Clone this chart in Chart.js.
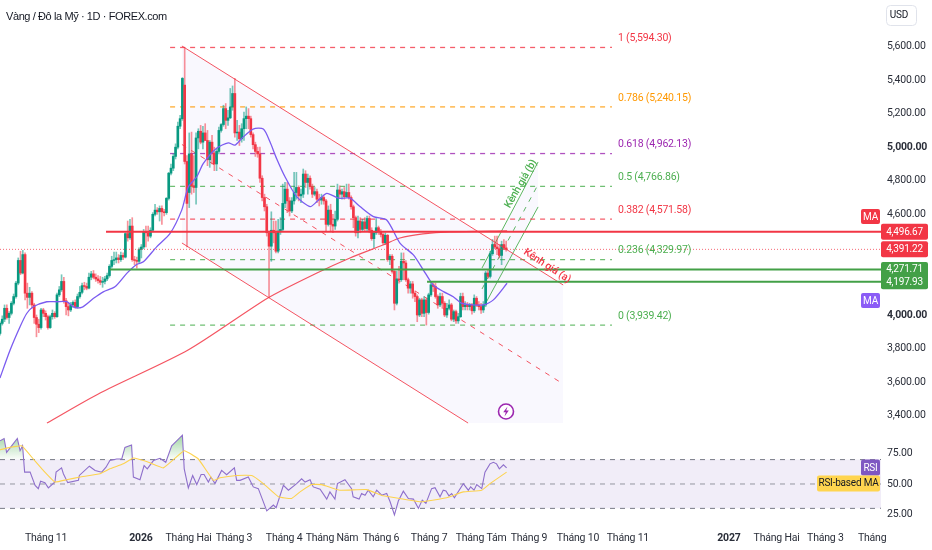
<!DOCTYPE html>
<html><head><meta charset="utf-8">
<style>html,body{margin:0;padding:0;background:#fff}canvas{display:block}</style>
<script src="https://cdn.jsdelivr.net/npm/chart.js@4"></script></head>
<body><canvas id="c" width="932" height="550"></canvas>
<script>
const chartTitle = "Vàng / Đô la Mỹ · 1D · FOREX.com";
const opens = [3890,3950,3975,4040,3985,4010,4070,4110,4190,4325,
4250,4360,4130,4105,4130,4060,3985,3945,3925,4030,
4010,3990,3925,3990,4010,3990,4120,4150,4200,4085,
4050,4030,4060,4075,4050,4110,4135,4175,4170,4160,
4225,4245,4225,4215,4205,4195,4200,4215,4235,4290,
4325,4330,4340,4330,4355,4345,4485,4460,4530,4330,
4325,4320,4390,4405,4495,4490,4470,4505,4600,4625,
4615,4635,4615,4610,4695,4845,4875,4945,5000,5125,
5170,5370,4915,4730,4960,4770,4760,5055,5095,5030,
5085,5040,4925,5030,4965,4900,4975,5100,5135,5230,
5160,5175,5240,5320,5085,5090,5050,5110,5170,5185,
5170,5075,5015,4975,4960,4815,4700,4645,4490,4410,
4505,4490,4380,4500,4510,4665,4750,4680,4620,4680,
4730,4760,4710,4720,4840,4790,4815,4765,4720,4735,
4690,4685,4700,4680,4540,4625,4540,4530,4570,4745,
4720,4735,4705,4730,4700,4645,4580,4490,4560,4510,
4555,4515,4575,4505,4455,4490,4520,4495,4480,4430,
4475,4330,4350,4260,4070,4215,4210,4320,4310,4210,
4160,4185,4130,4110,4000,4090,4010,4090,4015,4120,
4180,4170,4110,4060,4110,4070,4000,4040,4060,3975,
4020,3965,3990,4110,4050,4060,4050,4060,4025,4100,
4060,4050,4030,4060,4250,4230,4365,4420,4405,4395,4355,4420,4400];
const highs = [3960,3995,4060,4060,4020,4080,4125,4200,4340,4380,
4385,4370,4190,4165,4140,4070,4000,3975,4040,4040,
4025,4000,4000,4030,4020,4130,4170,4240,4225,4100,
4075,4075,4085,4090,4125,4170,4190,4195,4190,4250,
4260,4265,4245,4235,4230,4225,4230,4250,4300,4350,
4375,4375,4360,4375,4370,4490,4560,4570,4580,4350,
4345,4400,4420,4510,4530,4530,4520,4610,4660,4640,
4650,4650,4630,4700,4850,4900,4960,5020,5150,5190,
5415,5594,4950,5085,5090,4950,5085,5110,5130,5125,
5140,5100,5040,5070,5000,4990,5120,5140,5250,5260,
5220,5350,5365,5410,5160,5130,5140,5210,5240,5230,
5185,5085,5030,5000,5000,4830,4720,4660,4500,4615,
4560,4560,4570,4580,4780,4790,4790,4700,4700,4850,
4850,4770,4750,4870,4860,4840,4830,4780,4760,4750,
4720,4720,4710,4690,4650,4660,4600,4620,4780,4770,
4750,4760,4780,4780,4710,4655,4590,4590,4580,4570,
4580,4590,4590,4520,4500,4575,4530,4510,4490,4490,
4480,4360,4360,4265,4260,4290,4370,4370,4325,4220,
4200,4200,4140,4120,4100,4100,4110,4100,4130,4200,
4190,4190,4120,4130,4130,4080,4070,4090,4070,4030,
4030,4010,4130,4130,4080,4075,4070,4070,4120,4110,
4080,4070,4080,4260,4270,4380,4450,4470,4470,4420,4440,4450,4440];
const lows = [3880,3940,3960,3975,3950,4000,4060,4100,4180,4240,
4245,4090,4040,4060,4040,3950,3870,3895,3915,3990,
3970,3915,3920,3975,3980,3985,4110,4140,4070,4000,
3995,4020,4045,4040,4040,4100,4125,4150,4150,4155,
4210,4215,4200,4190,4180,4165,4185,4205,4225,4280,
4300,4310,4310,4320,4330,4340,4440,4450,4320,4300,
4280,4310,4340,4395,4405,4440,4460,4495,4590,4600,
4560,4540,4590,4600,4685,4835,4860,4930,4990,5110,
5160,4900,4405,4640,4720,4730,4660,4990,5020,4990,
5040,4890,4880,4900,4860,4860,4960,5090,5125,5110,
5130,5170,5220,5060,5040,5010,5030,5040,5110,5110,
5060,4990,4945,4940,4790,4680,4620,4470,4105,4320,
4430,4370,4370,4480,4500,4640,4610,4590,4610,4660,
4690,4680,4670,4700,4760,4720,4750,4700,4710,4670,
4650,4660,4660,4500,4530,4500,4490,4510,4560,4700,
4690,4690,4700,4690,4630,4520,4470,4460,4490,4500,
4500,4500,4490,4445,4400,4480,4480,4465,4420,4420,
4320,4300,4250,4030,4060,4190,4200,4210,4200,4130,
4130,4100,4080,3960,3990,3990,3990,3940,4005,4110,
4140,4100,4040,4050,4040,3990,3985,4030,3965,3960,
3950,3950,3985,4030,4030,4030,4030,4005,4015,4050,
4030,4010,4015,4050,4220,4220,4355,4395,4360,4340,4300,4390,4380];
const closes = [3950,3975,4040,3985,4010,4070,4110,4190,4325,4250,
4360,4130,4105,4130,4060,3985,3945,3925,4030,4010,
3990,3925,3990,4010,3990,4120,4150,4200,4085,4050,
4030,4060,4075,4050,4110,4135,4175,4170,4160,4225,
4245,4225,4215,4205,4195,4200,4215,4235,4290,4325,
4330,4340,4330,4355,4345,4485,4460,4530,4330,4325,
4320,4390,4405,4495,4490,4470,4505,4600,4625,4615,
4635,4615,4610,4695,4845,4875,4945,5000,5125,5170,
5410,4915,4665,4960,4770,4760,5055,5095,5030,5085,
5040,4925,5030,4965,4900,4975,5100,5135,5230,5160,
5175,5240,5320,5085,5090,5050,5110,5170,5185,5170,
5075,5015,4975,4960,4815,4700,4645,4490,4410,4505,
4490,4380,4500,4510,4665,4750,4680,4620,4680,4730,
4760,4710,4720,4840,4790,4815,4765,4720,4735,4690,
4685,4700,4680,4540,4625,4540,4530,4570,4745,4720,
4735,4705,4730,4700,4645,4580,4490,4560,4510,4555,
4515,4575,4505,4455,4490,4520,4495,4480,4430,4475,
4330,4350,4260,4070,4215,4210,4320,4310,4210,4160,
4185,4130,4110,4000,4090,4010,4090,4015,4120,4180,
4170,4110,4060,4110,4070,4000,4040,4060,3975,4020,
3965,3990,4110,4050,4060,4050,4060,4025,4100,4060,
4050,4030,4060,4250,4230,4365,4420,4405,4395,4355,4420,4400,4391];

const maFastIdx = [0,4.4,8.8,11.7,14.6,20.5,24.9,29.2,32.2,35.8,40.9,45.3,50.4,55.6,59.9,62.9,68.7,74.6,79.7,82.6,86.3,89.2,95,100.1,103,106,111,115.5,118.4,121.3,125,130.1,136,139,143.3,148.4,153.5,157.9,163.8,169.6,175.5,181.3,185.7,190,194.5,198.8,202.5,212,216.4,222.4];
const maFastVal = [3625,3790,3930,4009,4049,4079,4079,4079,4049,4045,4098,4138,4168,4248,4301,4317,4406,4486,4625,4764,4824,4903,4993,5026,5012,5052,5108,5108,5032,4933,4824,4705,4646,4676,4725,4696,4696,4646,4586,4566,4427,4358,4268,4179,4139,4109,4070,4060,4090,4189];
const maSlowIdx = [20.6,43.9,82.5,117.5,139,153.5,168,175.4,185.5,197.4,222.4];
const maSlowVal = [3356,3535,3791,4101,4250,4340,4417,4459,4483,4495,4501];

const fibLevels = [1,0.786,0.618,0.5,0.382,0.236,0];
const fibPrices = [5594.30,5240.15,4962.13,4766.86,4571.58,4329.97,3939.42];
const fibColors = ["#f23645","#ff9800","#9c27b0","#4caf50","#f23645","#4caf50","#4caf50"];
const fibRange = [74.6,268.4];

const redChannelIdx = [79.8,247];
const redChannelTop = [5603,4179];
const redChannelMidIdx = [79.8,245.6];
const redChannelMid = [5016,3601];
const redChannelLowIdx = [79.8,205.3];
const redChannelLow = [4429,3356];
const redShadeLowIdx = [79.8,205.3,247];
const redShadeLow = [4429,3356,3356];

const greenChannelIdx = [211.4,236];
const greenChannelTop = [4280,4912];
const greenChannelMid = [4155,4778];
const greenChannelLow = [4030,4644];

const levelPrices = [4496.67,4391.22,4271.71,4197.93];
const levelStart = [46.5,0,48.2,187.3];
const axisEnd = 386.4;

const priceTicks = [5600,5400,5200,5000,4800,4600,4000,3800,3600,3400];
const strongTicks = [5000,4000];
const rsiTicks = [75,50,25];
const rsiBands = [70,50,30];

const rsiIdx = [0,1.8,2.9,5.1,7.6,8.8,9.9,10.8,13.2,15.4,16.8,17.8,19.7,21.2,24.1,24.6,27,27.8,29.7,34.4,34.8,39.2,41.7,44.6,46.5,48.2,51.2,53.4,54.8,57.7,58.5,61.4,63.2,64.6,67.3,70.2,72.7,75.3,77.5,80,80.8,82.6,84.5,86.3,88.2,89.5,91.4,92.5,94.3,97.2,99.4,102.8,103.8,105.3,108.9,111.1,113.3,117,119.9,121.1,124.3,126.5,130.1,132.3,133.8,136,136.7,137.4,140.4,143.3,144.7,146.9,148,151.3,154.2,154.9,157.5,158.6,160.1,161.5,163.7,165.2,167.4,169.6,171.1,173,174.7,176.9,179.1,181.3,183.5,185.2,186.8,189.3,190.8,193,194.4,195.6,196.9,198.1,199.3,203.2,205.4,206.4,207.9,209.1,211.3,212.7,214.9,216.4,217.8,219,220.8,222.2];
const rsiVal = [85.4,87.3,75.9,81.3,87.3,77.3,81.3,59.7,59.7,48.9,46.2,52.2,51.1,46.8,51.6,59.7,63.2,58.4,51.1,53,57,64.6,61.1,59.7,63.8,69.2,70.5,70.5,80,81.9,55.7,53.5,65.1,62.4,69.2,71.1,67.8,81.3,85.4,90,62.4,46.8,57,49.5,57.8,57.8,51.6,55.7,50.3,61.1,57.6,63.2,53,53,55.7,47.6,46.2,27.9,32.7,30.6,48.9,44.9,50.3,54.3,51.6,53.5,50.3,47.6,45.7,37.6,43.5,37.6,50.3,53.5,46.2,39.5,37.6,42.2,40.8,44.9,39.5,44.9,40.8,42.2,35.4,24.6,36,44.1,38.1,37.6,30,36.8,34.1,46.2,47,39.5,44.9,44.3,40.3,42.2,38.7,50.3,44.9,47.6,44.9,49.5,46.2,59.7,66.5,67.8,66.5,62.4,65.7,63.2];
const rsiMaIdx = [0,4.4,9.5,14.6,19,24.1,29.2,35.1,43.9,48.2,54.1,58.5,64.3,71.6,80.8,87,93.6,96.5,103.8,110.4,115.5,122.1,127.9,131.6,136.7,141.1,149.1,160.8,168.1,175.4,184.9,195.9,203.2,211.3,214.9,222.2];
const rsiMaVal = [78.1,80,81.3,70.5,61.1,51.6,53.5,55.7,58.4,62.4,66.5,71.3,68.4,63.2,77.3,70.5,53,55.1,57,57,50.3,39.5,38.1,43.5,49.5,49.5,44.9,45.4,40.3,38.1,35.4,38.7,43.5,44.9,50.3,59.7];

const monthIdx = [20.2,61.8,82.7,102.6,124.6,145.6,167.1,188.2,211,232,253.5,275.4,319.7,340.6,362,382.5];
const monthLabels = ["Tháng 11","2026","Tháng Hai","Tháng 3","Tháng 4","Tháng Năm","Tháng 6","Tháng 7","Tháng Tám","Tháng 9","Tháng 10","Tháng 11","2027","Tháng Hai","Tháng 3","Tháng"];
const strongMonths = ["2026","2027"];

const pts = (xs, ys) => xs.map((x, i) => ({x, y: ys[i]}));
const idxs = opens.map((_, i) => i);
const UP = "#089981", DOWN = "#f23645";
const fontFam = "Roboto, sans-serif";
const line = (label, data, color, extra) => Object.assign({type:"line", label, data, borderColor:color, borderWidth:1, pointRadius:0, tension:0, fill:false, yAxisID:"y"}, extra);
const shade = "rgba(110,90,230,0.045)";

const canvas = document.getElementById("c");
const g2d = canvas.getContext("2d");
const rsiGlow = g2d.createLinearGradient(0, 434, 0, 459);
rsiGlow.addColorStop(0, "rgba(76,175,80,0.55)");
rsiGlow.addColorStop(1, "rgba(76,175,80,0.03)");

const datasets = [
  line("shade top", pts(redChannelIdx, redChannelTop), "transparent", {borderWidth:0, fill:"+1", backgroundColor:shade, order:40}),
  line("shade low", pts(redShadeLowIdx, redShadeLow), "transparent", {borderWidth:0, order:41}),
  line("green top", pts(greenChannelIdx, greenChannelTop), "rgba(76,175,80,0.9)", {fill:"+1", backgroundColor:shade, order:30}),
  line("green low", pts(greenChannelIdx, greenChannelLow), "rgba(76,175,80,0.9)", {order:30}),
  line("green mid", pts(greenChannelIdx, greenChannelMid), "rgba(76,175,80,0.9)", {borderDash:[5,6], order:30}),
  line("red top", pts(redChannelIdx, redChannelTop), "rgba(242,54,69,0.85)", {order:3}),
  line("red low", pts(redChannelLowIdx, redChannelLow), "rgba(242,54,69,0.85)", {order:3}),
  line("red mid", pts(redChannelMidIdx, redChannelMid), "rgba(242,54,69,0.85)", {borderDash:[5,6], order:25}),
  ...fibPrices.map((p, i) => line("fib "+fibLevels[i], pts(fibRange, [p,p]), fibColors[i], {borderDash:[5,5], order:28, borderColor:fibColors[i]+"cc", borderWidth:1.3})),
  {type:"bar", label:"wicks", data:idxs.map(i => ({x:i, y:[lows[i], highs[i]]})), barThickness:1, grouped:false, yAxisID:"y", order:12,
    backgroundColor:idxs.map(i => closes[i] >= opens[i] ? "rgba(8,153,129,0.55)" : "rgba(242,54,69,0.55)")},
  {type:"bar", label:"bodies", data:idxs.map(i => ({x:i, y:[opens[i], closes[i]]})), barThickness:2, grouped:false, yAxisID:"y", order:11,
    backgroundColor:idxs.map(i => closes[i] >= opens[i] ? UP : DOWN)},
  line("MA fast", pts(maFastIdx, maFastVal), "#7b5cf0", {tension:0.25, order:5, borderWidth:1.3}),
  line("MA slow", pts(maSlowIdx, maSlowVal), "rgba(242,54,69,0.85)", {tension:0.25, order:5, borderWidth:1.2}),
  line("level 1", pts([levelStart[0],axisEnd], [levelPrices[0],levelPrices[0]]), "#f23645", {borderWidth:2, order:2}),
  line("last", pts([levelStart[1],axisEnd], [levelPrices[1],levelPrices[1]]), "rgba(242,54,69,0.75)", {borderDash:[1,2], order:4}),
  line("level 3", pts([levelStart[2],axisEnd], [levelPrices[2],levelPrices[2]]), "#43a047", {borderWidth:2, order:2}),
  line("level 4", pts([levelStart[3],axisEnd], [levelPrices[3],levelPrices[3]]), "#43a047", {borderWidth:2, order:2}),
  line("rsi hi", pts([0,axisEnd], [rsiBands[0],rsiBands[0]]), "#787b86", {yAxisID:"yRsi", borderDash:[5,5], fill:"+2", backgroundColor:"rgba(126,87,194,0.11)", order:35}),
  line("rsi mid", pts([0,axisEnd], [rsiBands[1],rsiBands[1]]), "rgba(120,123,134,0.75)", {yAxisID:"yRsi", borderDash:[5,5], order:34}),
  line("rsi lo", pts([0,axisEnd], [rsiBands[2],rsiBands[2]]), "#787b86", {yAxisID:"yRsi", borderDash:[5,5], order:35}),
  line("RSI", pts(rsiIdx, rsiVal), "#8e6fcb", {yAxisID:"yRsi", fill:{target:{value:70}, above:rsiGlow, below:"transparent"}, order:6, borderWidth:1.1}),
  line("RSI MA", pts(rsiMaIdx, rsiMaVal), "#fdd34f", {yAxisID:"yRsi", order:5, tension:0.1, borderWidth:1.1}),
];

function roundBox(c, x, y, w, h, r, fill){ c.fillStyle = fill; c.beginPath(); c.roundRect(x, y, w, h, r); c.fill(); }
const fmt = v => v.toLocaleString("en-US", {minimumFractionDigits:2, maximumFractionDigits:2});

const overlay = {
  id:"overlay",
  beforeDraw(chart){ chart.ctx.letterSpacing = "-0.2px"; },
  afterDraw(chart){
    const c = chart.ctx, y = chart.scales.y, x = chart.scales.x, r = chart.scales.yRsi;
    c.save();
    c.textBaseline = "middle"; c.textAlign = "left";
    c.letterSpacing = "-0.4px";
    c.font = "11px 'Liberation Sans', sans-serif"; c.fillStyle = "#131722";
    c.fillText(chartTitle, 6, 16.5);
    c.letterSpacing = "-0.2px";
    c.strokeStyle = "#e0e3eb"; c.lineWidth = 1;
    c.beginPath(); c.roundRect(886.5, 5.5, 30, 20, 4); c.stroke();
    c.font = "10px "+fontFam; c.fillStyle = "#131722"; c.textAlign = "center";
    c.fillText("USD", 899, 15.5);
    c.textAlign = "left"; c.font = "10.5px "+fontFam;
    fibPrices.forEach((p, i) => {
      c.fillStyle = fibColors[i];
      c.fillText(fibLevels[i] + " (" + fmt(p) + ")", x.getPixelForValue(fibRange[1]) + 6, y.getPixelForValue(p) - 9);
    });
    c.font = "10px "+fontFam;
    const tag = (p, h, fill, txt) => {
      const py = y.getPixelForValue(p);
      roundBox(c, 881, py - h/2, 47, h, 2, fill);
      c.fillStyle = "#fff"; c.textAlign = "center";
      c.fillText(txt, 904.5, py + 0.5);
    };
    tag(levelPrices[0], 16, "#f23645", fmt(levelPrices[0]));
    tag(levelPrices[1], 16, "#f23645", fmt(levelPrices[1]));
    const g1 = y.getPixelForValue(levelPrices[2]), g2 = y.getPixelForValue(levelPrices[3]);
    roundBox(c, 881, g1-7.5, 47, g2-g1+15, 2, "#43a047");
    c.fillStyle = "#fff"; c.fillText(fmt(levelPrices[2]), 904.5, g1+0.5); c.fillText(fmt(levelPrices[3]), 904.5, g2+0.5);
    const side = (txt, bx, by, w, h, fill, col) => {
      roundBox(c, bx, by, w, h, 2, fill);
      c.fillStyle = col; c.textAlign = "center"; c.fillText(txt, bx + w/2, by + h/2 + 0.5);
    };
    side("MA", 861, 209, 19, 15, "#f23645", "#fff");
    side("MA", 861, 293, 19, 15, "#8b5cf6", "#fff");
    side("RSI", 861, r.getPixelForValue(70), 19, 16, "#7e57c2", "#fff");
    side("RSI-based MA", 817, r.getPixelForValue(50)-8.5, 63, 16, "#ffd54f", "#131722");
    c.font = "500 10.5px "+fontFam; c.textAlign = "center";
    c.save(); c.translate(521, 184); c.rotate(-60*Math.PI/180); c.fillStyle = "#4caf50"; c.fillText("Kênh giá (b)", 0, 0); c.restore();
    c.save(); c.translate(547, 266); c.rotate(33*Math.PI/180); c.fillStyle = "#f23645"; c.fillText("Kênh giá (a)", 0, 0); c.restore();
    c.strokeStyle = "#9c27b0"; c.lineWidth = 1.6;
    c.beginPath(); c.arc(506, 411.5, 7.5, 0, Math.PI*2); c.fillStyle="#fff"; c.fill(); c.stroke();
    c.fillStyle = "#9c27b0";
    c.beginPath(); c.moveTo(507.5,406.5); c.lineTo(503.2,412.3); c.lineTo(505.8,412.3); c.lineTo(504.5,416.5); c.lineTo(508.8,410.6); c.lineTo(506.2,410.6); c.closePath(); c.fill();
    c.restore();
  }
};

new Chart(canvas, {
  data:{datasets},
  plugins:[overlay],
  options:{
    responsive:false, animation:false, devicePixelRatio:1,
    layout:{padding:0, autoPadding:false},
    plugins:{legend:{display:false}, tooltip:{enabled:false}, title:{display:false}},
    scales:{
      x:{type:"linear", offset:false, min:0, max:axisEnd, grid:{display:false, offset:false, drawTicks:false}, border:{display:false},
        afterBuildTicks(s){ s.ticks = monthIdx.map(v => ({value:v})); },
        afterFit(s){ s.height = 27; s.paddingLeft = 0; s.paddingRight = 0; },
        ticks:{autoSkip:false, maxRotation:0, minRotation:0, padding:9, color:"#2a2e39",
          callback:(v,i) => monthLabels[i],
          font:ctx => ({family:fontFam, size:10.5, weight: strongMonths.includes(monthLabels[ctx.index]) ? "bold" : "normal"})}},
      y:{type:"linear", axis:"y", position:"right", stack:"right", stackWeight:429, min:3320.6, max:5877.2, grid:{display:false, drawTicks:false}, border:{display:false},
        afterBuildTicks(s){ s.ticks = priceTicks.map(v => ({value:v})); },
        afterFit(s){ s.width = 51; s.paddingTop = 0; s.paddingBottom = 0; },
        ticks:{padding:6, color:"#2a2e39", callback:v => fmt(v),
          font:ctx => ({family:fontFam, size:10.5, weight: strongTicks.includes(ctx.tick && ctx.tick.value) ? "bold" : "normal"})}},
      yRsi:{type:"linear", axis:"y", position:"right", stack:"right", stackWeight:94, min:18, max:95.1, grid:{display:false, drawTicks:false}, border:{display:false},
        afterBuildTicks(s){ s.ticks = rsiTicks.map(v => ({value:v})); },
        afterFit(s){ s.width = 51; s.paddingTop = 0; s.paddingBottom = 0; },
        ticks:{padding:6, color:"#2a2e39", callback:v => fmt(v), font:{family:fontFam, size:10.5}}}
    }
  }
});
</script></body></html>
